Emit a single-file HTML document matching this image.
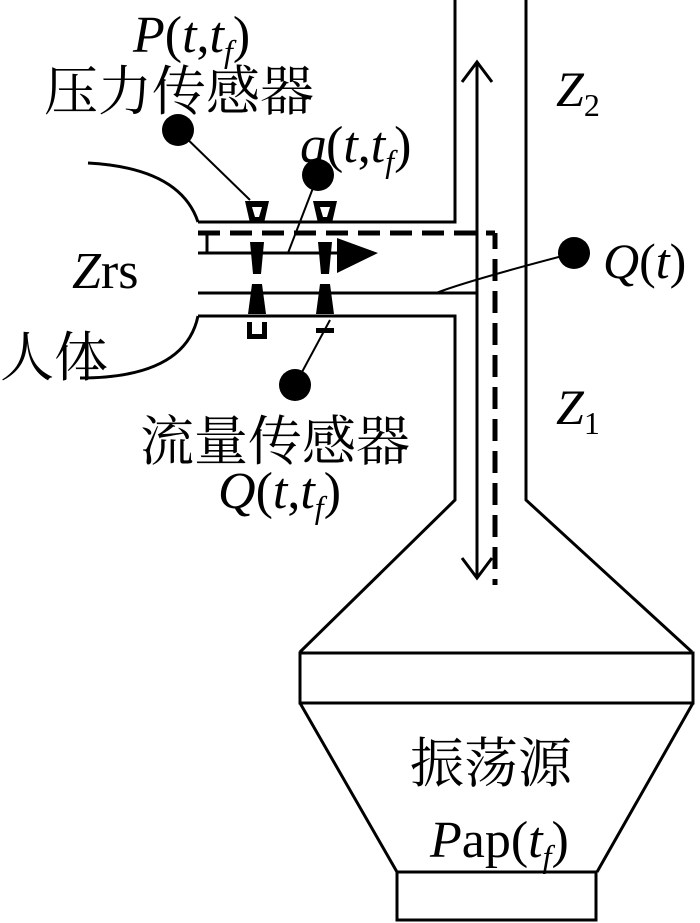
<!DOCTYPE html>
<html><head><meta charset="utf-8"><style>body{margin:0;background:#fff}svg{display:block}
.t{font-family:"Liberation Serif","Noto Serif CJK SC",serif;fill:#000}
.c{font-family:"Liberation Serif","Noto Serif CJK SC",serif;fill:#000}
</style></head><body>
<svg width="700" height="923" viewBox="0 0 700 923" xmlns="http://www.w3.org/2000/svg">
<g fill="none" stroke="#000" stroke-width="3">
<path d="M198 222 H455 V0"/>
<path d="M198 316 H455 V500 L300 652"/>
<path d="M526 0 V500 L692 652"/>
<path d="M198 253 H340"/>
<path d="M198 293 H476"/>
<path d="M207 233 V253"/>
<path d="M477 62 V578"/>
<path d="M462 82 L477 62 L492 82"/>
<path d="M462 558 L477 578 L492 558"/>
<path d="M88 163 Q180 168 198 222"/>
<path d="M198 316 Q185 378 80 378"/>
<rect x="300" y="653" width="393" height="50"/>
<path d="M300 703 L397 872 M693 703 L597 872"/>
<rect x="397" y="872" width="199" height="48"/>
<path d="M178 130 L250 200" stroke-width="2"/>
<path d="M318 175 L288 253" stroke-width="2"/>
<path d="M295 385 L330 320" stroke-width="2"/>
<path d="M436 293 Q470 280 574 253" stroke-width="2"/>
</g>
<g fill="none" stroke="#000" stroke-width="5">
<path d="M198 233 H495" stroke-dasharray="22 10"/>
<path d="M495 233 V585" stroke-dasharray="22 10" stroke-dashoffset="6"/>
</g>
<g fill="#000">
<path d="M245 201 H269 L264 223 H250 Z M252 207 L255 217 H259 L262 207 Z" fill-rule="evenodd"/>
<path d="M313 201 H337 L332 223 H318 Z M320 207 L323 217 H327 L330 207 Z" fill-rule="evenodd"/>
<path d="M250 242 H264 L261 274 H253 Z"/>
<path d="M318 242 H332 L329 274 H321 Z"/>
<path d="M252 284 H262 L266 314 H248 Z"/>
<path d="M320 284 H330 L334 314 H316 Z"/>
<path d="M247 322 V339 H267 V322 H262 V334 H252 V322 Z"/>
<rect x="316" y="328" width="18" height="5"/>
<path d="M337 238 L378 253 L337 273 Z"/>
<circle cx="178" cy="130" r="16"/>
<circle cx="318" cy="175" r="16"/>
<circle cx="295" cy="385" r="16"/>
<circle cx="574" cy="253" r="16"/>
</g>
<text class="t" x="133" y="52" font-size="52"><tspan font-style="italic">P</tspan>(<tspan font-style="italic">t</tspan>,<tspan font-style="italic">t<tspan font-size="32" dy="10">f</tspan></tspan><tspan dy="-10">)</tspan></text>
<text class="c" x="44" y="110" font-size="54">压力传感器</text>
<text class="t" x="300" y="162" font-size="52"><tspan font-style="italic">q</tspan>(<tspan font-style="italic">t</tspan>,<tspan font-style="italic">t<tspan font-size="32" dy="10">f</tspan></tspan><tspan dy="-10">)</tspan></text>
<text class="t" x="556" y="106" font-size="50" font-style="italic">Z<tspan font-size="32" font-style="normal" dy="10">2</tspan></text>
<text class="t" x="72" y="288" font-size="52"><tspan font-style="italic">Z</tspan>rs</text>
<text class="c" x="0" y="376" font-size="54">人体</text>
<text class="t" x="603" y="278" font-size="50"><tspan font-style="italic">Q</tspan>(<tspan font-style="italic">t</tspan>)</text>
<text class="t" x="556" y="424" font-size="50" font-style="italic">Z<tspan font-size="32" font-style="normal" dy="10">1</tspan></text>
<text class="c" x="140" y="460" font-size="54">流量传感器</text>
<text class="t" x="218" y="508" font-size="52"><tspan font-style="italic">Q</tspan>(<tspan font-style="italic">t</tspan>,<tspan font-style="italic">t<tspan font-size="32" dy="10">f</tspan></tspan><tspan dy="-10">)</tspan></text>
<text class="c" x="410" y="782" font-size="54">振荡源</text>
<text class="t" x="430" y="857" font-size="52"><tspan font-style="italic">P</tspan>ap(<tspan font-style="italic">t<tspan font-size="32" dy="10">f</tspan></tspan><tspan dy="-10">)</tspan></text>
</svg>
</body></html>
